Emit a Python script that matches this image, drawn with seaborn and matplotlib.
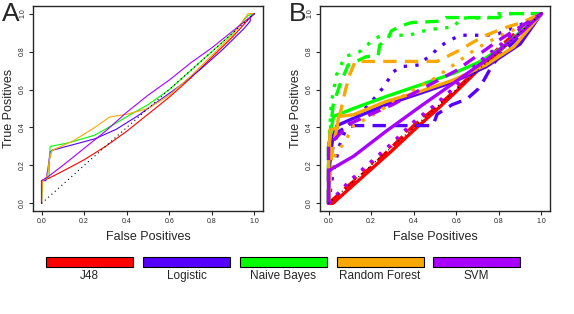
import numpy as np
import pandas as pd
import matplotlib
matplotlib.use('Agg')
import matplotlib.pyplot as plt
from matplotlib.patches import Rectangle
import seaborn as sns

classifiers = ['J48', 'Logistic', 'Naive Bayes', 'Random Forest', 'SVM']
colors = ['#ff0000', '#5500ff', '#00ff00', '#f8a800', '#aa00ff']

# panel A: one ROC curve per classifier
a_fpr = {
    'J48': [0, 0, 0.03, 0.1, 0.2, 0.3, 0.4, 0.5, 0.6, 0.7, 0.8, 0.9, 0.98, 1.0],
    'Logistic': [0, 0, 0.02, 0.03, 0.04, 0.05, 0.15, 0.25, 0.35, 0.45, 0.55, 0.65, 0.75, 0.85, 0.95, 0.98, 0.98, 1.0],
    'Naive Bayes': [0, 0.005, 0.02, 0.035, 0.04, 0.13, 0.25, 0.33, 0.42, 0.5, 0.6, 0.7, 0.8, 0.9, 0.97, 1.0],
    'Random Forest': [0, 0.005, 0.02, 0.03, 0.035, 0.05, 0.15, 0.25, 0.32, 0.4, 0.5, 0.6, 0.7, 0.8, 0.9, 0.97, 1.0],
    'SVM': [0, 0, 0.03, 0.1, 0.2, 0.3, 0.4, 0.5, 0.6, 0.7, 0.8, 0.9, 1.0],
}
a_tpr = {
    'J48': [0, 0.12, 0.13, 0.17, 0.23, 0.3, 0.38, 0.47, 0.56, 0.66, 0.77, 0.88, 0.98, 1.0],
    'Logistic': [0, 0.12, 0.12, 0.18, 0.27, 0.28, 0.31, 0.34, 0.39, 0.46, 0.54, 0.62, 0.71, 0.81, 0.92, 0.96, 0.98, 1.0],
    'Naive Bayes': [0, 0.12, 0.13, 0.14, 0.3, 0.32, 0.36, 0.41, 0.47, 0.52, 0.6, 0.7, 0.8, 0.9, 0.99, 1.0],
    'Random Forest': [0, 0.12, 0.13, 0.16, 0.22, 0.28, 0.33, 0.4, 0.455, 0.47, 0.5, 0.57, 0.67, 0.78, 0.89, 1.0, 1.0],
    'SVM': [0, 0.12, 0.14, 0.2, 0.29, 0.38, 0.48, 0.57, 0.65, 0.74, 0.82, 0.91, 1.0],
}

# panel B: three curves per classifier (solid / dashed / dotted)
b_fpr = {
    ('J48', 'solid'): [0, 0.02, 0.1, 0.2, 0.3, 0.4, 0.5, 0.6, 0.7, 0.8, 0.9, 1.0],
    ('J48', 'dashed'): [0, 0.1, 0.2, 0.3, 0.4, 0.5, 0.6, 0.7, 0.8, 0.9, 1.0],
    ('J48', 'dotted'): [0, 0.1, 0.2, 0.3, 0.4, 0.5, 0.6, 0.7, 0.8, 0.9, 1.0],
    ('Logistic', 'solid'): [0, 0.005, 0.02, 0.04, 0.1, 0.27, 0.43, 0.586, 0.74, 0.9, 1.0],
    ('Logistic', 'dashed'): [0, 0, 0.01, 0.03, 0.05, 0.08, 0.12, 0.48, 0.49, 0.51, 0.58, 0.65, 0.7, 0.73, 0.77, 0.82, 0.9, 1.0],
    ('Logistic', 'dotted'): [0, 0.02, 0.05, 0.086, 0.164, 0.22, 0.26, 0.305, 0.34, 0.43, 0.44, 0.49, 0.52, 0.57, 0.62, 0.74, 0.8, 0.9, 1.0],
    ('Naive Bayes', 'solid'): [0, 0, 0.023, 0.117, 0.27, 0.43, 0.586, 0.71, 0.82, 1.0],
    ('Naive Bayes', 'dashed'): [0, 0, 0.022, 0.053, 0.092, 0.178, 0.233, 0.24, 0.28, 0.295, 0.34, 0.39, 0.53, 0.55, 0.8, 0.82, 1.0],
    ('Naive Bayes', 'dotted'): [0, 0, 0.014, 0.0375, 0.077, 0.147, 0.217, 0.256, 0.381, 0.428, 0.49, 0.59, 0.62, 0.75, 0.78, 1.0],
    ('Random Forest', 'solid'): [0, 0, 0.008, 0.04, 0.047, 0.117, 0.27, 0.43, 0.586, 0.74, 0.87, 1.0],
    ('Random Forest', 'dashed'): [0, 0.01, 0.02, 0.05, 0.08, 0.1, 0.125, 0.51, 0.55, 0.62, 0.68, 0.74, 0.84, 0.9, 1.0],
    ('Random Forest', 'dotted'): [0, 0.01, 0.03, 0.06, 0.08, 0.117, 0.2, 0.3, 0.4, 0.5, 0.6, 0.7, 0.8, 0.9, 1.0],
    ('SVM', 'solid'): [0, 0, 0.023, 0.117, 0.27, 0.43, 0.586, 0.74, 0.9, 1.0],
    ('SVM', 'dashed'): [0, 0, 0.03, 0.1, 0.2, 0.3, 0.4, 0.5, 0.6, 0.7, 0.8, 0.9, 1.0],
    ('SVM', 'dotted'): [0, 0.1, 0.2, 0.3, 0.4, 0.5, 0.6, 0.7, 0.8, 0.9, 1.0],
}
b_tpr = {
    ('J48', 'solid'): [0, 0.0, 0.08, 0.18, 0.28, 0.385, 0.485, 0.59, 0.7, 0.8, 0.9, 1.0],
    ('J48', 'dashed'): [0, 0.1, 0.19, 0.3, 0.41, 0.5, 0.6, 0.71, 0.82, 0.92, 1.0],
    ('J48', 'dotted'): [0, 0.11, 0.21, 0.31, 0.42, 0.51, 0.62, 0.72, 0.82, 0.91, 1.0],
    ('Logistic', 'solid'): [0, 0.2, 0.35, 0.41, 0.44, 0.52, 0.58, 0.64, 0.72, 0.84, 1.0],
    ('Logistic', 'dashed'): [0, 0.1, 0.25, 0.33, 0.38, 0.4, 0.41, 0.41, 0.41, 0.47, 0.52, 0.55, 0.6, 0.65, 0.73, 0.8, 0.88, 1.0],
    ('Logistic', 'dotted'): [0, 0.15, 0.3, 0.405, 0.49, 0.56, 0.615, 0.694, 0.72, 0.73, 0.746, 0.79, 0.825, 0.86, 0.886, 0.886, 0.895, 0.94, 1.0],
    ('Naive Bayes', 'solid'): [0, 0.3, 0.458, 0.5, 0.563, 0.624, 0.685, 0.746, 0.825, 1.0],
    ('Naive Bayes', 'dashed'): [0, 0.3, 0.52, 0.624, 0.729, 0.773, 0.78, 0.834, 0.869, 0.909, 0.935, 0.953, 0.96, 0.979, 0.979, 1.0, 1.0],
    ('Naive Bayes', 'dotted'): [0, 0.3, 0.537, 0.677, 0.773, 0.8, 0.869, 0.886, 0.886, 0.904, 0.918, 0.93, 0.977, 0.977, 1.0, 1.0],
    ('Random Forest', 'solid'): [0, 0.2, 0.388, 0.397, 0.458, 0.467, 0.537, 0.59, 0.65, 0.73, 0.825, 1.0],
    ('Random Forest', 'dashed'): [0, 0.2, 0.3, 0.45, 0.6, 0.68, 0.748, 0.748, 0.77, 0.81, 0.85, 0.886, 0.93, 0.95, 1.0],
    ('Random Forest', 'dotted'): [0, 0.15, 0.25, 0.3, 0.33, 0.41, 0.46, 0.53, 0.6, 0.66, 0.74, 0.82, 0.88, 0.93, 1.0],
    ('SVM', 'solid'): [0, 0.17, 0.187, 0.248, 0.38, 0.51, 0.633, 0.755, 0.895, 1.0],
    ('SVM', 'dashed'): [0, 0.3, 0.34, 0.42, 0.47, 0.52, 0.58, 0.64, 0.7, 0.78, 0.86, 0.93, 1.0],
    ('SVM', 'dotted'): [0, 0.12, 0.22, 0.32, 0.43, 0.52, 0.62, 0.74, 0.83, 0.92, 1.0],
}

rows = []
for c in classifiers:
    for x, y in zip(a_fpr[c], a_tpr[c]):
        rows.append({'fpr': x, 'tpr': y, 'Classifier': c})
df_a = pd.DataFrame(rows)

rows = []
for (c, kind), xs in b_fpr.items():
    for x, y in zip(xs, b_tpr[(c, kind)]):
        rows.append({'fpr': x, 'tpr': y, 'Classifier': c, 'kind': kind})
df_b = pd.DataFrame(rows)

sns.set_style('ticks')
plt.rcParams['font.family'] = ['Liberation Sans', 'DejaVu Sans']

fig = plt.figure(figsize=(5.74, 3.14), dpi=100)
W, H = 574, 314
ax_a = fig.add_axes([33 / W, 1 - 211 / H, 230 / W, 205 / H])
ax_b = fig.add_axes([320 / W, 1 - 211 / H, 230 / W, 205 / H])
pal = dict(zip(classifiers, colors))

sns.lineplot(data=df_a, x='fpr', y='tpr', hue='Classifier', palette=pal, hue_order=classifiers,
             estimator=None, sort=False, lw=0.8, legend=False, ax=ax_a)
sns.lineplot(data=df_b, x='fpr', y='tpr', hue='Classifier', style='kind', palette=pal, hue_order=classifiers,
             dashes={'solid': '', 'dashed': (4, 2.5), 'dotted': (1, 2.5)}, style_order=['solid', 'dashed', 'dotted'],
             estimator=None, sort=False, lw=2.4, legend=False, ax=ax_b)

for ax, letter, xl in [(ax_a, 'A', 2 / W), (ax_b, 'B', 289 / W)]:
    ax.plot([0, 1], [0, 1], color='k', ls=(0, (1, 3)), lw=0.8)
    ax.set_xlim(-0.04, 1.04)
    ax.set_ylim(-0.04, 1.04)
    ticks = [0, 0.2, 0.4, 0.6, 0.8, 1.0]
    ax.set_xticks(ticks)
    ax.set_yticks(ticks)
    ax.set_xticklabels([f'{t:.1f}' for t in ticks], fontsize=5)
    ax.set_yticklabels([f'{t:.1f}' for t in ticks], fontsize=5, rotation=90, va='center')
    ax.tick_params(length=3, width=0.8, pad=2)
    ax.set_xlabel('False Positives', fontsize=9, labelpad=4)
    ax.set_ylabel('True Positives', fontsize=9, labelpad=3)
    for s in ax.spines.values():
        s.set_linewidth(1.0)
    fig.text(xl, 1 - 2 / H, letter, fontsize=19, va='top', ha='left')

# legend boxes underneath
lefts = [46, 143, 239.5, 336.5, 433]
for c, col, l in zip(classifiers, colors, lefts):
    fig.patches.append(Rectangle((l / W, 1 - 267.3 / H), 87 / W, 10.6 / H, transform=fig.transFigure,
                                 facecolor=col, edgecolor='k', lw=0.8))
    fig.text((l + 43.5) / W, 1 - 279 / H, c, fontsize=8.5, ha='center', va='baseline')

fig.savefig('out.png', dpi=100)
